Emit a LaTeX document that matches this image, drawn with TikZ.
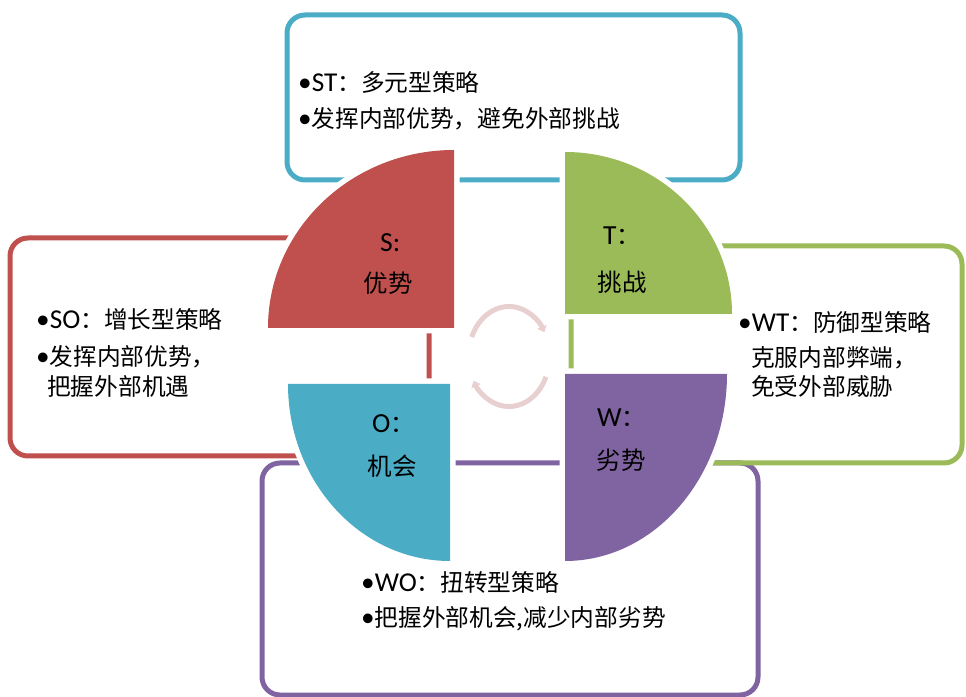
\documentclass[tikz,border=0pt]{standalone}
\usepackage{fontspec}
\setmainfont{Carlito}[Scale=1.15]
\newfontfamily\cjk{Noto Sans CJK SC}
\usetikzlibrary{arrows.meta}
\definecolor{cblue}{HTML}{4BACC6}
\definecolor{cred}{HTML}{C0504D}
\definecolor{cgreen}{HTML}{9BBB59}
\definecolor{cpurple}{HTML}{8064A2}
\definecolor{carrow}{HTML}{E8D0D0}
\begin{document}
\begin{tikzpicture}[x=1pt,y=1pt,
  box/.style={line width=5pt, rounded corners=18pt},
  quad/.style={preaction={draw=white, line width=11pt, line join=round}},
  txt/.style={anchor=base west, inner sep=0pt, font=\fontsize{23.7}{28}\selectfont},
  labl/.style={anchor=base west, inner sep=0pt, font=\fontsize{24}{28}\selectfont},
  labc/.style={inner sep=0pt, font=\fontsize{24.5}{28}\selectfont\cjk},
  cyc/.style={draw=carrow, line width=5pt, -{Triangle[width=10pt,length=6pt]}}]
\useasboundingbox (0,0) rectangle (966,696);
% strategy boxes
\draw[box, cpurple] (262,1) rectangle (758,233);
\draw[box, cred] (10,240) rectangle (429,458);
\draw[box, cblue] (287,516) rectangle (740,681);
\draw[box, cgreen] (571,233) rectangle (962,450);
% quadrants
\fill[cred, quad] (454pt,368pt) -- (454pt,546pt) arc[start angle=90,end angle=180,x radius=186pt,y radius=178pt] -- cycle;
\fill[cgreen, quad] (565pt,382pt) -- (732pt,382pt) arc[start angle=0,end angle=90,x radius=167pt,y radius=162pt] -- cycle;
\fill[cblue, quad] (450pt,312pt) -- (288pt,312pt) arc[start angle=180,end angle=270,x radius=162pt,y radius=177pt] -- cycle;
\fill[cpurple, quad] (565pt,322pt) -- (565pt,135pt) arc[start angle=270,end angle=360,x radius=162pt,y radius=187pt] -- cycle;
% cycle arrows
\coordinate (cc) at (509,339.5);
\draw[cyc] (cc) ++(157:40.5pt and 50pt) arc[start angle=157,end angle=29,x radius=40.5pt,y radius=50pt];
\draw[cyc] (cc) ++(-24:40.5pt and 50pt) arc[start angle=-24,end angle=-151,x radius=40.5pt,y radius=50pt];
% quadrant labels
\node[labl] (sl) at (380,444) {S:};
\node[labc] (sc) at (388,413) {优势};
\node[labl] (tl) at (603,451) {T{\cjk ：}};
\node[labc] (tc) at (622,414) {挑战};
\node[labl] (ol) at (372,263) {O{\cjk ：}};
\node[labc] (oc) at (392,230) {机会};
\node[labl] (wl) at (597,269) {W{\cjk ：}};
\node[labc] (wc) at (621,236) {劣势};
% box texts
\node[txt] (st1) at (298,604.3) {•ST{\cjk ：多元型策略}};
\node[txt] (st2) at (298,568.3) {•{\cjk 发挥内部优势，避免外部挑战}};
\node[txt] (so1) at (36,367.3) {•SO{\cjk ：增长型策略}};
\node[txt] (so2) at (36,330.3) {•{\cjk 发挥内部优势，}};
\node[txt] (so3) at (47,300.3) {\cjk 把握外部机遇};
\node[txt] (wt1) at (738,364.3) {•WT{\cjk ：防御型策略}};
\node[txt] (wt2) at (751,329.3) {\cjk 克服内部弊端，};
\node[txt] (wt3) at (751,300.3) {\cjk 免受外部威胁};
\node[txt] (wo1) at (361,104.3) {•WO{\cjk ：扭转型策略}};
\node[txt] (wo2) at (361,69.3) {•{\cjk 把握外部机会,减少内部劣势}};
\end{tikzpicture}
\end{document}
